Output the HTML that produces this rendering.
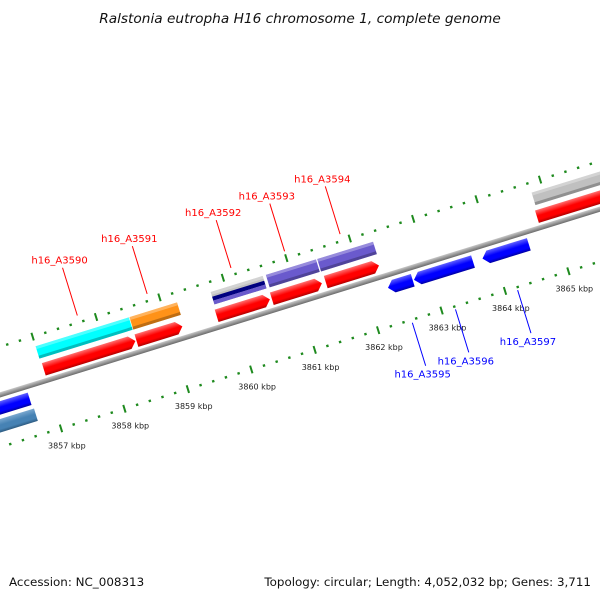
<!DOCTYPE html>
<html><head><meta charset="utf-8"><style>
html,body{margin:0;padding:0;background:#fff}
svg{display:block}
text{font-family:"DejaVu Sans","Liberation Sans",sans-serif}
</style></head><body>
<svg id="map" width="600" height="600" viewBox="0 0 600 600" xmlns="http://www.w3.org/2000/svg">
<defs>
<linearGradient id="gbb" x1="0" y1="0" x2="0" y2="1"><stop offset="0" stop-color="#c8c8c8"/><stop offset="1" stop-color="#6a6a6a"/></linearGradient>
</defs>
<text x="300" y="23" text-anchor="middle" font-size="13.7" font-style="italic" fill="#111">Ralstonia eutropha H16 chromosome 1, complete genome</text>
<g id="rot"></g>
<g id="labels"></g>
<text x="9" y="586" font-size="11.9" fill="#111">Accession: NC_008313</text>
<text x="591" y="586" text-anchor="end" font-size="11.9" fill="#111">Topology: circular; Length: 4,052,032 bp; Genes: 3,711</text>
</svg>
<script>
// data (kbp)
const fwdNames = ['', 'h16_A3590','h16_A3591','h16_A3592','h16_A3593','h16_A3594',''];
const fwdStart = [3855.2, 3857.015, 3858.476, 3859.74, 3860.61, 3861.46, 3864.79];
const fwdEnd   = [3855.9, 3858.46, 3859.2, 3860.58, 3861.40, 3862.30, 3866.8];
const topColors = ['#00ffff','#ff9218','#c0c0c0','#6a5acd','#6a5acd','#c0c0c0'];
const topStart = [3857.0, 3858.48, 3859.76, 3860.63, 3861.44, 3864.82];
const topEnd   = [3858.47, 3859.23, 3860.58, 3861.42, 3862.32, 3866.8];
const revNames = ['', 'h16_A3595','h16_A3596','h16_A3597'];
const revStart = [3855.3, 3862.33, 3862.74, 3863.82];
const revEnd   = [3856.68, 3862.72, 3863.67, 3864.55];
const rev2Start = [3855.3];
const rev2End   = [3856.70];
const tickFrom = 3854, tickTo = 3867;

const NS='http://www.w3.org/2000/svg';
const ang=17.2*Math.PI/180, C=Math.cos(ang), S=Math.sin(ang);
const ORIGY=397, PXK=66.4, K0=3857, U0=49;
const uOf=k=>U0+(k-K0)*PXK;
const scr=(u,v)=>[u*C+v*S, ORIGY-u*S+v*C];
const rot=document.getElementById('rot');
rot.setAttribute('transform',`translate(0,${ORIGY}) rotate(-17.2)`);
const labs=document.getElementById('labels');
function mk(tag,attrs,parent){const e=document.createElementNS(NS,tag);for(const k in attrs)e.setAttribute(k,attrs[k]);parent.appendChild(e);return e;}
let gid=0;
function grad(col,light,dark){const id='g'+(gid++);const g=mk('linearGradient',{id:id,x1:0,y1:0,x2:0,y2:1},document.querySelector('defs'));
 mk('stop',{offset:0,'stop-color':light},g);mk('stop',{offset:0.45,'stop-color':col},g);mk('stop',{offset:0.75,'stop-color':col},g);mk('stop',{offset:1,'stop-color':dark},g);return 'url(#'+id+')';}
const fRed=grad('#ff0000','#ff7070','#b00000');
const fBlue=grad('#0000ff','#6060ff','#0000a0');
const fSteel=grad('#4682b4','#7aa8cf','#2d5a80');

// backbone
const bb=mk('rect',{x:-200,y:-4.5,width:1100,height:5,fill:'url(#gbb)'},rot);



// ticks
for(let i=0;i<=Math.round((tickTo-tickFrom)*5);i++){
 const k=tickFrom+i*0.2, u=uOf(k), major=(i%5===0);
 [48,-48].forEach(v=>{
  const r=major?mk('rect',{x:u-1,y:v-4,width:2,height:8,fill:'#1e8a1e'},rot):mk('rect',{x:u-1.2,y:v-1.2,width:2.4,height:2.4,fill:'#1e8a1e'},rot);
  
  
 });
 if(major){const [x,y]=scr(u,48);
  if(x-13>=0 && x<600){
  const t=mk('text',{x:x-13,y:y+20,'font-size':8,fill:'#222'},labs);t.textContent=Math.round(k)+' kbp';
  
  }}
}

function arrow(k1,k2,v1,v2,dir,fill,name){
 const a=uOf(k1),b=uOf(k2),h=6,m=(v1+v2)/2;let pts;
 if(dir>0)pts=`${a},${v1} ${b-h},${v1} ${b},${m} ${b-h},${v2} ${a},${v2}`;
 else pts=`${a+h},${v1} ${b},${v1} ${b},${v2} ${a+h},${v2} ${a},${m}`;
 const p=mk('polygon',{points:pts,fill:fill},rot);
 
 
}
fwdStart.forEach((s,i)=>arrow(s,fwdEnd[i],-20,-7,1,fRed,'forward-gene-'+(fwdNames[i]||'unnamed')));
revStart.forEach((s,i)=>arrow(s,revEnd[i],4,17,-1,fBlue,'reverse-gene-'+(revNames[i]||'unnamed')));
rev2Start.forEach((s,i)=>{const r=mk('rect',{x:uOf(s),y:21,width:uOf(rev2End[i])-uOf(s),height:13,fill:fSteel},rot);
 
 });
topStart.forEach((s,i)=>{const c=topColors[i];const a=uOf(s),w=uOf(topEnd[i])-a;
 const r=mk('rect',{x:a,y:-38,width:w,height:13,fill:c},rot);
 
 
 mk('rect',{x:a,y:-38,width:w,height:3,fill:'#fff','fill-opacity':0.3},rot);
 mk('rect',{x:a,y:-28,width:w,height:3,fill:'#000','fill-opacity':0.25},rot);
 if(i===2){const n=mk('rect',{x:a,y:-33,width:w,height:4,fill:'#000080'},rot);
  
  
  mk('rect',{x:a,y:-29,width:w,height:4,fill:'#6a5acd'},rot);}
});

// labels
function label(name,k,v1,v2,color,below){
 const [x1,y1]=scr(uOf(k),v1),[x2,y2]=scr(uOf(k),v2);
 const l=mk('line',{x1:x1,y1:y1,x2:x2,y2:y2,stroke:color,'stroke-width':1},labs);
 
 
 const t=mk('text',{x:x2-3,y:below?y2+12:y2-4,'text-anchor':'middle','font-size':10,fill:color},labs);
 t.textContent=name;
 
 
}
fwdNames.forEach((n,i)=>{if(n)label(n,(fwdStart[i]+fwdEnd[i])/2,-55,-105,'#ff0000',false);});
revNames.forEach((n,i)=>{if(n)label(n,(revStart[i]+revEnd[i])/2,51,96,'#0000ff',true);});
</script>
</body></html>
